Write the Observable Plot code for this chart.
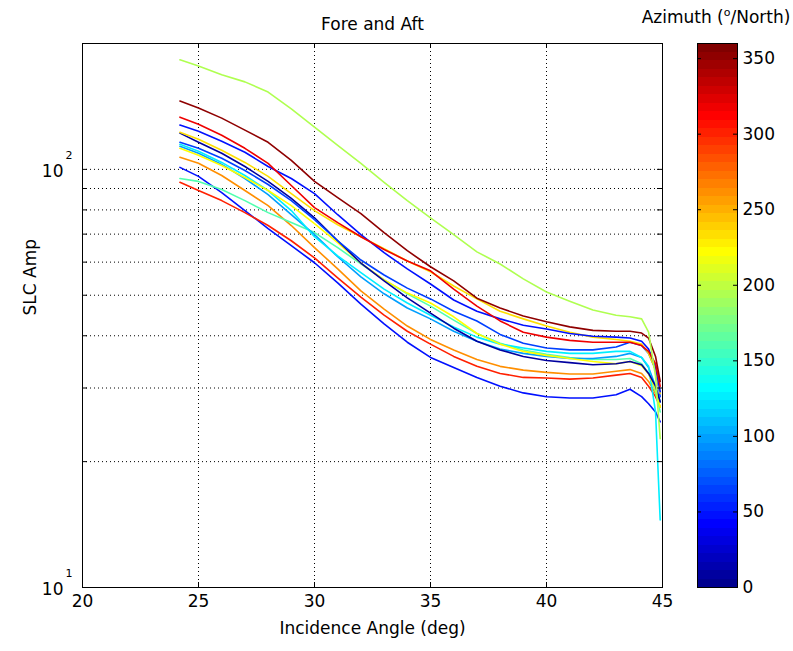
<!DOCTYPE html>
<html><head><meta charset="utf-8">
<script src="https://cdn.jsdelivr.net/npm/d3@7"></script>
<script src="https://cdn.jsdelivr.net/npm/@observablehq/plot@0.6"></script>
<style>
html,body{margin:0;padding:0;background:#fff;}
#wrap{position:relative;width:793px;height:651px;overflow:hidden;background:#fff;}
#wrap svg{position:absolute;left:0;top:0;}
</style></head><body><div id="wrap"></div>
<script>
// ---- data ----
const incidence = [24.2,25,26,27,28,29,30,31,32,33,34,35,36,37,38,39,40,41,42,43,43.6,44.1,44.4,44.7,44.9];

const lightGreen = [182.8,176.8,168.3,161.9,153.1,139.5,126.2,114.2,103.4,93.1,84.2,76.6,69.8,63.5,59.4,54.7,50.9,48.4,46.1,44.8,44.4,43.9,40.8,32.0,22.7];
const darkRed    = [145.7,140.2,132.6,124.1,116.1,105.1,93.6,85.6,78.4,70.6,63.9,58.5,54.1,49.2,46.6,44.6,43.2,42.0,41.2,41.0,41.0,40.6,39.5,35.7,31.1];
const red        = [133.3,128.2,120.7,112.3,103.4,91.5,81.0,74.6,69.0,64.3,60.4,57.2,51.7,47.1,43.4,40.8,39.7,39.0,38.6,38.6,38.6,37.9,36.7,34.3,30.3];
const topBlue    = [127.6,123.4,116.8,109.9,101.6,95.1,87.5,77.9,69.8,63.2,57.8,53.2,48.7,45.8,43.9,42.4,41.5,40.5,39.9,39.7,39.5,38.8,37.2,33.8,29.4];
const gold       = [122.7,118.0,111.1,103.9,96.2,87.5,79.7,73.7,69.0,64.6,60.4,56.9,52.6,49.0,45.8,43.9,42.2,40.8,39.7,39.2,38.8,38.2,36.3,33.2,29.1];
const navy       = [122.1,116.1,109.3,101.6,93.6,85.2,76.6,67.5,59.7,54.1,49.3,45.3,41.7,38.8,37.0,35.7,34.9,34.5,34.1,34.3,34.7,34.1,32.5,30.3,27.8];
const midBlue    = [116.1,112.3,106.3,99.4,92.0,84.2,75.8,67.5,60.7,55.9,52.0,49.0,45.8,43.4,40.3,38.4,37.4,37.0,37.0,37.6,38.6,37.9,36.3,33.2,28.6];
const cyan       = [114.8,110.5,103.9,96.7,89.0,79.7,69.0,62.1,56.6,51.7,47.9,44.8,42.0,39.7,38.2,37.4,36.7,36.3,36.3,36.7,36.7,35.5,33.8,26.3,14.5];
const lightBlue  = [113.6,109.3,102.8,95.1,87.0,77.9,69.8,61.8,55.3,50.4,46.6,43.9,41.0,38.8,37.2,36.3,35.7,35.3,35.3,35.7,36.3,35.5,33.6,30.3,27.8];
const yellow     = [112.3,108.1,102.2,95.6,89.0,81.9,74.2,66.8,59.7,54.4,50.6,47.9,44.4,40.5,38.2,36.7,35.9,35.3,34.7,34.3,34.7,33.9,32.4,29.8,27.0];
const orange     = [106.9,103.4,96.7,89.0,81.9,73.4,65.0,57.8,51.2,46.3,42.2,39.2,37.0,35.1,33.8,33.1,32.7,32.4,32.4,32.9,33.2,32.5,31.1,29.1,27.0];
const bottomBlue = [101.1,96.2,88.0,79.7,72.2,65.7,59.8,53.5,47.6,42.7,38.6,35.5,33.6,31.8,30.3,29.2,28.6,28.4,28.4,28.9,29.8,28.6,27.5,26.3,24.9];
const aqua       = [95.1,93.6,89.5,84.2,78.8,74.6,70.6,65.0,59.4,54.4,50.4,47.1,43.6,40.5,38.4,37.0,36.1,35.5,35.1,35.1,35.3,34.3,32.5,29.4,26.3];
const redLow     = [93.1,89.0,84.2,78.8,73.4,67.5,61.4,55.0,49.5,44.8,41.0,38.2,35.7,33.8,32.5,31.8,31.7,31.5,31.7,32.2,32.5,31.8,30.3,28.6,27.0];

const seriesValues = [bottomBlue, redLow, orange, aqua, lightBlue, cyan, yellow, navy, midBlue, gold, topBlue, red, darkRed, lightGreen];
const azimuths     = [48, 300, 262, 160, 100, 128, 222, 10, 62, 236, 45, 315, 350, 195];

const xTicks = [20,25,30,35,40,45];
const xTickLabels = ["20","25","30","35","40","45"];
const xGrid = [25,30,35,40];
const yTicks = [10,100];
const yTickBase = ["10","10"];
const yTickExponents = ["1","2"];
const yGrid = [20,30,40,50,60,70,80,90,100];
const yMinorTicks = [10,20,30,40,50,60,70,80,90,100];
const cbTicks = [0,50,100,150,200,250,300,350];
const cbTickLabels = ["0","50","100","150","200","250","300","350"];
const cbLevels = 64;

// MATLAB jet(64) colormap, as an interpolator over [0,1]
function jet(t){
  const k = Math.min(63, Math.max(0, Math.floor(t*64))) + 1;
  const b = k<=8 ? (k+8)/16 : k<=24 ? 1 : k<=40 ? (40-k)/16 : 0;
  const g = k<=8 ? 0 : k<=24 ? (k-8)/16 : k<=40 ? 1 : k<=56 ? (56-k)/16 : 0;
  const r = k<=24 ? 0 : k<=40 ? (k-24)/16 : k<=56 ? 1 : (72-k)/16;
  return `rgb(${Math.round(r*255)},${Math.round(g*255)},${Math.round(b*255)})`;
}

const rows = [];
seriesValues.forEach((vals, i) => vals.forEach((v, j) => rows.push({id: i, az: azimuths[i], x: incidence[j], y: v})));

const W = 793, H = 651, mt = 43, mb = 64, ml = 82, mr = 131;
const pw = W - ml - mr, ph = H - mt - mb;
const font = "'DejaVu Sans', 'Liberation Sans', sans-serif";
const fs = 17;

const main = Plot.plot({
  width: W, height: H, marginTop: mt, marginBottom: mb, marginLeft: ml, marginRight: mr,
  style: {fontFamily: font, fontSize: fs + "px", background: "transparent", color: "#000", overflow: "visible"},
  x: {type: "linear", domain: [20, 45], axis: null},
  y: {type: "log", domain: [10, 200], axis: null},
  color: {type: "linear", domain: [0, 360], interpolate: jet},
  marks: [
    Plot.ruleX(xGrid, {x: d => d, stroke: "#000", strokeDasharray: "1,3", strokeWidth: 1}),
    Plot.ruleY(yGrid, {y: d => d, stroke: "#000", strokeDasharray: "1,3", strokeWidth: 1}),
    Plot.line(rows, {x: "x", y: "y", z: "id", stroke: "az", strokeWidth: 1.6}),
    Plot.frame({stroke: "#000"}),
    Plot.tickX(xTicks, {x: d => d, insetTop: ph - 5, stroke: "#000"}),
    Plot.tickX(xTicks, {x: d => d, insetBottom: ph - 5, stroke: "#000"}),
    Plot.tickY(yMinorTicks, {y: d => d, insetRight: pw - 5, stroke: "#000"}),
    Plot.tickY(yMinorTicks, {y: d => d, insetLeft: pw - 5, stroke: "#000"}),
    Plot.text(xTicks, {x: d => d, frameAnchor: "bottom", dy: 19, text: (d, i) => xTickLabels[i], fill: "#000"}),
    Plot.text(yTicks, {y: d => d, frameAnchor: "left", dx: -19, dy: 2, textAnchor: "end", text: (d, i) => yTickBase[i], fill: "#000"}),
    Plot.text(yTicks, {y: d => d, frameAnchor: "left", dx: -17, dy: -14, textAnchor: "start", fontSize: 11, text: (d, i) => yTickExponents[i], fill: "#000"}),
    Plot.text(["Fore and Aft"], {frameAnchor: "top", dy: -26, text: d => d, fill: "#000"}),
    Plot.text(["Incidence Angle (deg)"], {frameAnchor: "bottom", dy: 46, text: d => d, fill: "#000"}),
    Plot.text(["SLC Amp"], {frameAnchor: "left", dx: -52, rotate: -90, text: d => d, fill: "#000"})
  ]
});

const bands = d3.range(cbLevels).map(i => ({lo: i * 360 / cbLevels, hi: (i + 1) * 360 / cbLevels}));
const cbLeft = 697, cbWidth = 40;
const cb = Plot.plot({
  width: W, height: H, marginTop: mt, marginBottom: mb, marginLeft: cbLeft, marginRight: W - cbLeft - cbWidth,
  style: {fontFamily: font, fontSize: fs + "px", background: "transparent", color: "#000", overflow: "visible"},
  x: {domain: [0, 1], axis: null},
  y: {domain: [0, 360], axis: null},
  color: {type: "linear", domain: [0, 360], interpolate: jet},
  marks: [
    Plot.rect(bands, {x1: 0, x2: 1, y1: "lo", y2: "hi", fill: d => (d.lo + d.hi) / 2, shapeRendering: "crispEdges"}),
    Plot.frame({stroke: "#000"}),
    Plot.tickY(cbTicks, {y: d => d, insetRight: cbWidth - 4, stroke: "#000"}),
    Plot.tickY(cbTicks, {y: d => d, insetLeft: cbWidth - 4, stroke: "#000"}),
    Plot.text(cbTicks, {y: d => d, frameAnchor: "right", dx: 5, textAnchor: "start", text: (d, i) => cbTickLabels[i], fill: "#000"})
  ]
});

// colorbar title with superscript degree "o"
const t = d3.select(cb).append("text")
  .attr("x", 716).attr("y", 23).attr("text-anchor", "middle")
  .attr("font-family", font).attr("font-size", fs).attr("fill", "#000");
t.append("tspan").text("Azimuth (");
t.append("tspan").attr("dy", -7).attr("font-size", 11).text("o");
t.append("tspan").attr("dy", 7).text("/North)");

const wrap = document.getElementById("wrap");
wrap.appendChild(main);
wrap.appendChild(cb);
</script>
</body></html>
